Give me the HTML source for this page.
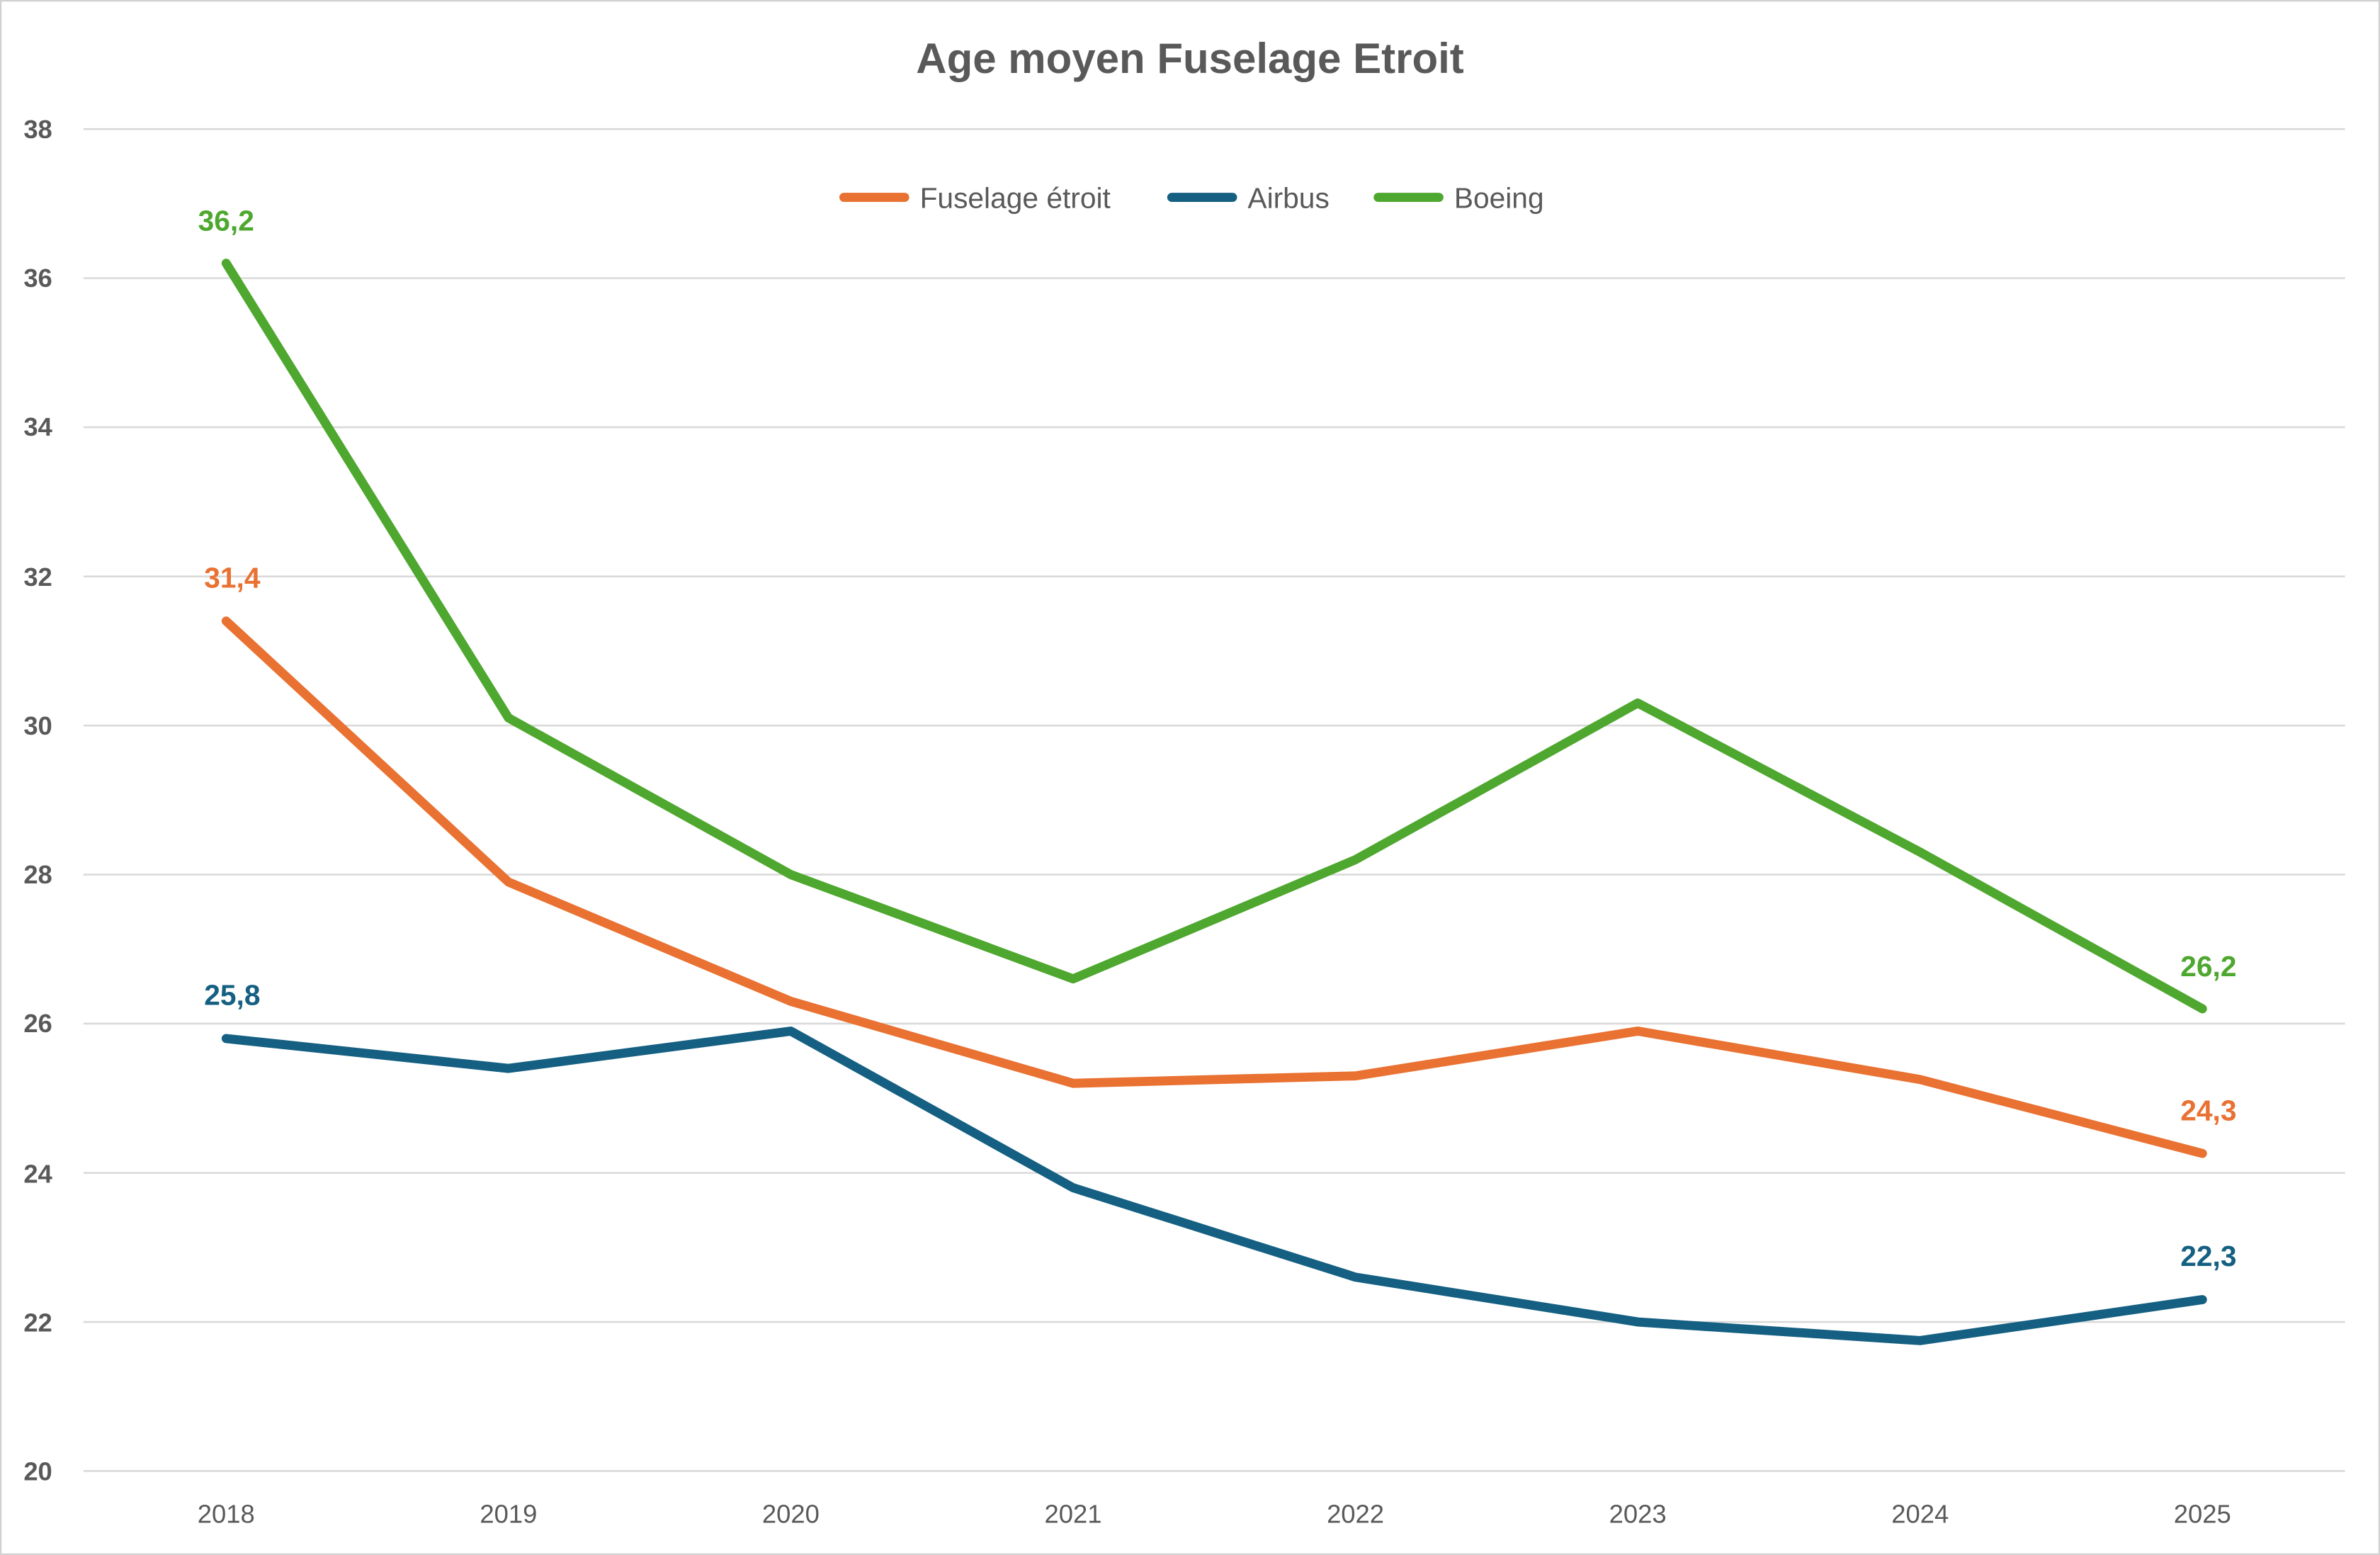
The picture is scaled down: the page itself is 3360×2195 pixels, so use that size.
<!DOCTYPE html>
<html><head><meta charset="utf-8"><style>html,body{margin:0;padding:0;background:#fff}svg{display:block}</style></head>
<body>
<svg width="3360" height="2195" viewBox="0 0 1568 1024.3" xmlns="http://www.w3.org/2000/svg" font-family="Liberation Sans, sans-serif">
<rect x="0.5" y="0.5" width="1567" height="1023.3" fill="#fff" stroke="#d0d0d0"/>
<text x="784" y="48" text-anchor="middle" font-size="28" font-weight="bold" fill="#595959">Age moyen Fuselage Etroit</text>
<g stroke="#d9d9d9" stroke-width="1.2">
<line x1="55" x2="1545" y1="85" y2="85"/><line x1="55" x2="1545" y1="183.2" y2="183.2"/>
<line x1="55" x2="1545" y1="281.4" y2="281.4"/><line x1="55" x2="1545" y1="379.7" y2="379.7"/>
<line x1="55" x2="1545" y1="477.9" y2="477.9"/><line x1="55" x2="1545" y1="576.1" y2="576.1"/>
<line x1="55" x2="1545" y1="674.3" y2="674.3"/><line x1="55" x2="1545" y1="772.6" y2="772.6"/>
<line x1="55" x2="1545" y1="870.8" y2="870.8"/><line x1="55" x2="1545" y1="969" y2="969"/>
</g>
<g font-size="17" font-weight="bold" fill="#595959" text-anchor="middle">
<text x="25" y="91">38</text><text x="25" y="189">36</text><text x="25" y="287">34</text><text x="25" y="386">32</text><text x="25" y="484">30</text><text x="25" y="582">28</text><text x="25" y="680">26</text><text x="25" y="779">24</text><text x="25" y="877">22</text><text x="25" y="975">20</text>
</g>
<g font-size="17" fill="#595959" text-anchor="middle">
<text x="149" y="1003">2018</text><text x="335" y="1003">2019</text><text x="521" y="1003">2020</text><text x="707" y="1003">2021</text><text x="893" y="1003">2022</text><text x="1079" y="1003">2023</text><text x="1265" y="1003">2024</text><text x="1451" y="1003">2025</text>
</g>
<g fill="none" stroke-width="6" stroke-linecap="round" stroke-linejoin="round">
<polyline stroke="#e97132" points="149,409.1 335,581 521,659.6 707,713.6 893,708.7 1079,679.2 1265,711.1 1451,759.8"/>
<polyline stroke="#156082" points="149,684.1 335,703.8 521,679.2 707,782.4 893,841.3 1079,870.8 1265,883.1 1451,856.1"/>
<polyline stroke="#4ea72e" points="149,173.4 335,472.9 521,576.1 707,644.8 893,566.3 1079,463.1 1265,561.3 1451,664.5"/>
</g>
<g font-size="19" font-weight="bold" text-anchor="middle">
<text x="149" y="152" fill="#4ea72e">36,2</text>
<text x="153" y="387" fill="#e97132">31,4</text>
<text x="153" y="662" fill="#156082">25,8</text>
<text x="1455" y="643" fill="#4ea72e">26,2</text>
<text x="1455" y="738" fill="#e97132">24,3</text>
<text x="1455" y="834" fill="#156082">22,3</text>
</g>
<g stroke-width="6" stroke-linecap="round">
<line x1="556" x2="596" y1="130" y2="130" stroke="#e97132"/>
<line x1="772" x2="812" y1="130" y2="130" stroke="#156082"/>
<line x1="908" x2="948" y1="130" y2="130" stroke="#4ea72e"/>
</g>
<g font-size="19" fill="#595959">
<text x="606" y="137">Fuselage étroit</text>
<text x="822" y="137">Airbus</text>
<text x="958" y="137">Boeing</text>
</g>
</svg>
</body></html>
